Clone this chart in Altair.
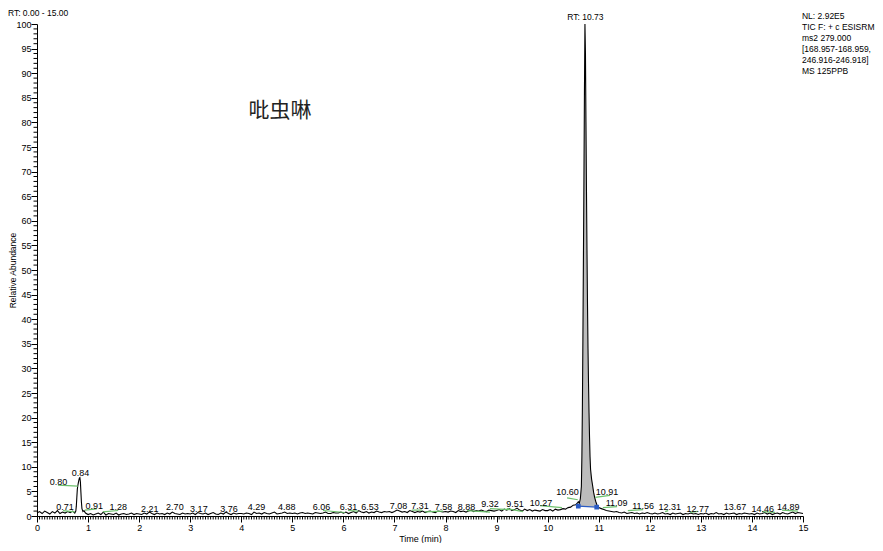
import altair as alt
import pandas as pd

# ---------------- data ----------------
# baseline segment A: 0.00 - 0.70 min (step 0.05)
seg_a_start = 0.00
seg_a_vals = [0.6, 0.9, 0.5, 1.0, 0.7, 0.4, 0.9, 0.6, 1.1, 0.5, 0.8, 0.6, 0.9, 0.7, 1.0]

# small early peak
peak1_t = [0.72, 0.74, 0.76, 0.77, 0.78, 0.79, 0.80, 0.81, 0.82, 0.83, 0.84, 0.85, 0.86, 0.87, 0.88, 0.90, 0.92, 0.95]
peak1_v = [0.8, 0.6, 1.0, 2.0, 3.8, 5.5, 6.2, 6.8, 7.3, 7.7, 7.8, 6.9, 4.8, 2.8, 1.5, 0.9, 1.1, 0.6]

# baseline segment B: 1.00 - 10.55 min (step 0.05)
seg_b_start = 1.00
seg_b_vals = [
    0.3, 0.5, 0.2, 0.4, 0.6, 0.3, 0.8, 0.2, 0.5, 0.4, 0.3, 0.6, 0.2, 0.4, 0.5, 0.3, 0.4, 0.6, 0.3, 0.5,
    0.4, 0.3, 0.6, 0.4, 0.8, 0.5, 0.3, 0.6, 0.4, 0.5, 0.3, 0.6, 0.4, 0.8, 0.5, 0.4, 0.3, 0.6, 0.4, 0.5,
    0.4, 0.6, 0.3, 0.7, 0.5, 0.4, 0.6, 0.3, 0.5, 0.7, 0.4, 0.3, 0.6, 0.4, 0.8, 0.5, 0.3, 0.6, 0.4, 0.5,
    0.5, 0.4, 0.6, 0.5, 0.3, 0.8, 0.5, 0.6, 0.4, 0.7, 0.5, 0.4, 0.6, 0.8, 0.4, 0.5, 0.6, 0.8, 0.5, 0.6,
    0.5, 0.6, 0.4, 0.6, 0.7, 0.5, 0.6, 0.5, 0.4, 0.7, 0.6, 0.5, 0.6, 0.8, 0.5, 0.5, 0.7, 0.6, 0.6, 0.8,
    0.6, 0.8, 0.5, 0.7, 0.9, 0.6, 1.1, 0.8, 0.7, 0.9, 0.6, 0.8, 0.7, 1.0, 0.8, 0.7, 0.9, 0.8, 0.9, 0.7,
    0.9, 1.2, 1.0, 0.8, 0.9, 0.7, 1.1, 0.9, 0.7, 0.9, 0.8, 1.0, 0.7, 0.9, 1.0, 0.8, 0.7, 1.0, 0.9, 0.8,
    0.9, 0.8, 1.0, 0.9, 0.7, 1.1, 0.9, 1.0, 0.8, 1.0, 1.2, 0.9, 1.1, 1.0, 1.2, 1.0, 0.9, 1.2, 1.1, 1.0,
    1.1, 1.3, 1.0, 1.4, 1.2, 1.5, 1.1, 1.3, 1.6, 1.2, 1.0, 1.4, 1.1, 1.3, 1.0, 1.2, 1.1, 1.0, 1.3, 1.1,
    1.1, 1.3, 1.0, 1.4, 1.2, 1.3, 1.5, 1.4, 1.7, 1.8, 2.2, 2.3,
]

# main peak (RT 10.73)
peak2_t = [10.58, 10.60, 10.62, 10.64, 10.66, 10.67, 10.68, 10.69, 10.70, 10.71, 10.72, 10.73,
           10.74, 10.75, 10.76, 10.77, 10.78, 10.79, 10.80, 10.81, 10.82, 10.83, 10.84, 10.86,
           10.88, 10.90, 10.92, 10.94, 10.96, 10.98, 11.00]
peak2_v = [2.6, 2.9, 2.6, 3.5, 6.0, 12, 22, 36, 52, 68, 86, 100,
           94, 80, 66, 54, 43, 34, 27, 21, 16, 12, 9.5, 7.5,
           6.2, 4.8, 3.8, 3.0, 2.4, 2.0, 1.7]

# baseline segment C: 11.05 - 15.00 min (step 0.05)
seg_c_start = 11.05
seg_c_vals = [
    1.5, 1.3, 1.1, 1.0, 0.9, 0.8, 0.9, 0.7, 0.6, 0.8, 0.5, 0.6, 0.7, 0.5, 0.6, 0.4, 0.6, 0.5, 0.7,
    0.5, 0.4, 0.6, 0.4, 0.5, 0.7, 0.4, 0.5, 0.3, 0.6, 0.4, 0.5, 0.6, 0.3, 0.5, 0.4, 0.6, 0.4, 0.5, 0.3,
    0.5, 0.4, 0.6, 0.3, 0.5, 0.4, 0.7, 0.4, 0.5, 0.3, 0.6, 0.4, 0.5, 0.6, 0.3, 0.5, 0.4, 0.6, 0.5, 0.4,
    0.5, 0.3, 0.6, 0.4, 0.5, 0.7, 0.4, 0.6, 0.3, 0.5, 0.6, 0.4, 0.7, 0.5, 0.4, 0.6, 0.8, 0.5, 0.7, 0.6, 0.5,
]

# integrated peak (gray fill) limits and its baseline
fill_start, fill_end = 10.60, 10.96
peak_base_t = [10.60, 10.96]
peak_base_v = [2.0, 1.8]
fill_base = 1.9

# peak labels
label_text = ["0.71", "0.80", "0.84", "0.91", "1.28", "2.21", "2.70", "3.17", "3.76", "4.29",
              "4.88", "6.06", "6.31", "6.53", "7.08", "7.31", "7.58", "8.88", "9.32", "9.51",
              "10.27", "10.60", "10.91", "11.09", "11.56", "12.31", "12.77", "13.67", "14.46", "14.89"]
label_x = [0.55, 0.42, 0.85, 1.12, 1.59, 2.21, 2.70, 3.17, 3.76, 4.30,
           4.89, 5.57, 6.10, 6.52, 7.08, 7.50, 7.96, 8.41, 8.87, 9.36,
           9.87, 10.39, 11.16, 11.35, 11.87, 12.39, 12.94, 13.67, 14.21, 14.71]
label_y = [1.73, 7.0, 8.84, 2.13, 1.73, 1.52, 1.73, 1.52, 1.52, 1.73,
           1.73, 1.73, 1.93, 1.93, 2.13, 2.13, 1.73, 1.73, 2.34, 2.54,
           2.74, 4.78, 4.78, 2.74, 2.13, 1.73, 1.52, 1.73, 1.52, 1.93]

# green label baselines
green_x1 = [0.51, 0.41, 0.94, 1.29, 5.60, 6.09, 7.34, 7.60, 8.42, 8.87, 9.20, 9.85, 10.38, 10.93, 11.08, 11.57, 12.30, 12.79, 14.20, 14.59]
green_x2 = [0.74, 0.80, 1.17, 1.59, 6.03, 6.29, 7.54, 7.95, 8.87, 9.26, 9.52, 10.28, 10.59, 11.22, 11.36, 11.87, 12.36, 12.94, 14.45, 14.90]
green_y1 = [1.1, 6.26, 1.18, 0.85, 1.12, 1.12, 1.2, 0.85, 1.1, 1.5, 1.5, 2.1, 3.7, 3.8, 1.7, 1.1, 0.9, 0.75, 0.9, 1.2]
green_y2 = [0.85, 6.06, 1.46, 1.12, 0.71, 0.98, 1.2, 0.98, 0.8, 1.3, 0.9, 1.7, 3.3, 4.2, 1.9, 1.3, 1.1, 0.95, 0.75, 1.0]

info_lines = ["NL: 2.92E5", "TIC F: + c ESISRM", "ms2 279.000", "[168.957-168.959,", "246.916-246.918]", "MS 125PPB"]
range_text = "RT: 0.00 - 15.00"
apex_text = "RT: 10.73"
apex_rt = 10.74
compound = "吡虫啉"

x_major = list(range(16))
y_major = list(range(0, 101, 5))
x_minor = [round(i * 0.05, 2) for i in range(301) if i % 20 != 0]
y_minor = [i for i in range(101) if i % 5 != 0]

# ---------------- build tables ----------------
times, vals = [], []
for i, v in enumerate(seg_a_vals):
    times.append(round(seg_a_start + 0.05 * i, 2)); vals.append(v)
times += peak1_t; vals += peak1_v
for i, v in enumerate(seg_b_vals):
    times.append(round(seg_b_start + 0.05 * i, 2)); vals.append(v)
times += peak2_t; vals += peak2_v
for i, v in enumerate(seg_c_vals):
    times.append(round(seg_c_start + 0.05 * i, 2)); vals.append(v)

trace = pd.DataFrame({"t": times, "v": vals})
fill = trace[(trace.t >= fill_start) & (trace.t <= fill_end)].copy()
fill["b"] = fill_base

labels = pd.DataFrame({"text": label_text, "x": label_x, "y": label_y})
greens = pd.DataFrame({"x1": green_x1, "x2": green_x2, "y1": green_y1, "y2": green_y2})
pbase = pd.DataFrame({"t": peak_base_t, "v": peak_base_v})
xmin_df = pd.DataFrame({"t": x_minor})
ymin_df = pd.DataFrame({"v": y_minor})

FONT = "Liberation Sans"
xs = alt.Scale(domain=[0, 15], nice=False, zero=False)
ys = alt.Scale(domain=[0, 100], nice=False)

x_axis = alt.Axis(
    values=x_major, format="d", tickSize=6, grid=False,
    labelOverlap=False, labelFlush=False,
    labelFont=FONT, labelFontSize=9, labelColor="black", labelPadding=1,
    tickColor="black", domainColor="black", tickWidth=1, domainWidth=1,
    title="Time (min)", titleFont=FONT, titleFontSize=9, titleFontWeight="normal",
    titleColor="black", titlePadding=2,
)
y_axis = alt.Axis(
    values=y_major, format="d", tickSize=6, grid=False,
    labelOverlap=False, labelFlush=False,
    labelFont=FONT, labelFontSize=9, labelColor="black", labelPadding=0,
    tickColor="black", domainColor="black", tickWidth=1, domainWidth=1,
    title="Relative Abundance", titleFont=FONT, titleFontSize=8.5, titleFontWeight="normal",
    titleColor="black", titlePadding=-2,
)

# every layer carries the same axis definition so the shared axes merge cleanly
NX = dict(scale=xs, axis=x_axis)
NY = dict(scale=ys, axis=y_axis)

area = alt.Chart(fill).mark_area(color="#bcbcbc", opacity=1).encode(
    x=alt.X("t:Q", **NX), y=alt.Y("v:Q", **NY), y2="b:Q")

line = alt.Chart(trace).mark_line(color="black", strokeWidth=1.1).encode(
    x=alt.X("t:Q", **NX), y=alt.Y("v:Q", **NY))

x_minor_ticks = alt.Chart(xmin_df).mark_rule(color="black", strokeWidth=1, y2Offset=3.5).encode(
    x=alt.X("t:Q", **NX), y=alt.Y(datum=0, **NY), y2=alt.Y2(datum=0))
y_minor_ticks = alt.Chart(ymin_df).mark_rule(color="black", strokeWidth=1, x2Offset=-3.5).encode(
    y=alt.Y("v:Q", **NY), x=alt.X(datum=0, **NX), x2=alt.X2(datum=0))

blue_line = alt.Chart(pbase).mark_line(color="#2a5bc4", strokeWidth=1.2).encode(
    x=alt.X("t:Q", **NX), y=alt.Y("v:Q", **NY))
blue_pts = alt.Chart(pbase).mark_square(color="#2a5bc4", size=22, opacity=1).encode(
    x=alt.X("t:Q", **NX), y=alt.Y("v:Q", **NY))

green = alt.Chart(greens).mark_rule(color="#6cc06c", strokeWidth=1.2).encode(
    x=alt.X("x1:Q", **NX), x2="x2:Q", y=alt.Y("y1:Q", **NY), y2="y2:Q")

lbl = alt.Chart(labels).mark_text(font=FONT, fontSize=9, color="black", align="center", baseline="middle").encode(
    x=alt.X("x:Q", **NX), y=alt.Y("y:Q", **NY), text="text:N")

info = alt.Chart(pd.DataFrame({"x": [14.98], "y": [102.4]})).mark_text(
    text="\n".join(info_lines), lineBreak="\n", lineHeight=11, font=FONT, fontSize=8.5,
    color="black", align="left", baseline="top").encode(
    x=alt.X("x:Q", **NX), y=alt.Y("y:Q", **NY))

rng = alt.Chart(pd.DataFrame({"x": [-0.57], "y": [102.3]})).mark_text(
    text=range_text, font=FONT, fontSize=8.5, color="black", align="left", baseline="middle").encode(
    x=alt.X("x:Q", **NX), y=alt.Y("y:Q", **NY))

apex = alt.Chart(pd.DataFrame({"x": [apex_rt], "y": [101.4]})).mark_text(
    text=apex_text, font=FONT, fontSize=8.5, color="black", align="center", baseline="middle").encode(
    x=alt.X("x:Q", **NX), y=alt.Y("y:Q", **NY))

title = alt.Chart(pd.DataFrame({"x": [4.76], "y": [82.3]})).mark_text(
    text=compound, font="Noto Sans CJK SC", fontSize=21, color="#222222", align="center", baseline="middle").encode(
    x=alt.X("x:Q", **NX), y=alt.Y("y:Q", **NY))

chart = alt.layer(
    area, line, x_minor_ticks, y_minor_ticks, blue_line, blue_pts, green, lbl, info, rng, apex, title
).properties(
    width=766, height=492,
    autosize=alt.AutoSizeParams(type="none"),
    padding={"left": 29, "top": 16, "right": 72, "bottom": 27},
).configure(background="white").configure_view(stroke=None)

chart.save("out.html", embed_options={"renderer": "svg", "actions": False})
